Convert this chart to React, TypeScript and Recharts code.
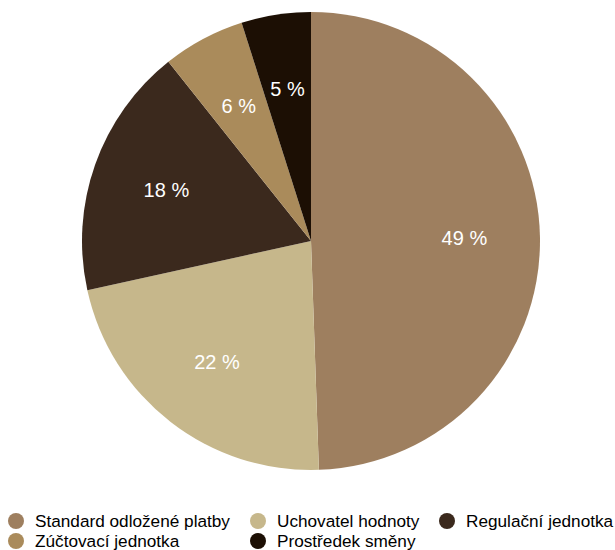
import { PieChart, Pie, Cell } from "recharts";

const categories = [
  "Standard odložené platby",
  "Uchovatel hodnoty",
  "Regulační jednotka",
  "Zúčtovací jednotka",
  "Prostředek směny",
];
// podíly (štítky jsou zaokrouhlené)
const shares = [49.45, 22.1, 17.75, 5.8, 4.9];
const colors = ["#9e7f5f", "#c6b78b", "#3b291d", "#aa8b5b", "#1c0f04"];

const data = categories.map((name, i) => ({ name, value: shares[i] }));

const RAD = Math.PI / 180;
const FONT = "'Liberation Sans', Arial, Helvetica, sans-serif";

function SliceLabel(props: any) {
  const { cx, cy, midAngle, outerRadius, value } = props;
  const r = outerRadius * 0.67;
  const x = cx + r * Math.cos(-midAngle * RAD);
  const y = cy + r * Math.sin(-midAngle * RAD);
  return (
    <text
      x={x}
      y={y}
      fill="#ffffff"
      textAnchor="middle"
      dominantBaseline="central"
      fontSize={20}
      fontFamily={FONT}
    >
      {`${Math.round(value)} %`}
    </text>
  );
}

function LegendGrid() {
  return (
    <div
      style={{
        position: "absolute",
        left: 8,
        top: 511,
        display: "grid",
        gridTemplateColumns: "242px 189px auto",
        gridAutoRows: "20px",
        fontFamily: FONT,
        fontSize: 17.2,
        lineHeight: "20px",
        color: "#000",
      }}
    >
      {data.map((d, i) => (
        <div key={d.name} style={{ display: "flex", alignItems: "center", whiteSpace: "nowrap" }}>
          <span
            style={{
              display: "inline-block",
              width: 16,
              height: 16,
              borderRadius: "50%",
              background: colors[i],
              marginRight: 11,
              flex: "none",
            }}
          />
          {d.name}
        </div>
      ))}
    </div>
  );
}

export default function App() {
  return (
    <div style={{ position: "relative", width: 615, height: 550, overflow: "hidden" }}>
      <style>{`html, body { margin: 0; overflow: hidden; }`}</style>
      <PieChart width={615} height={505} margin={{ top: 0, right: 0, bottom: 0, left: 0 }}>
        <Pie
          data={data}
          dataKey="value"
          nameKey="name"
          cx={311}
          cy={241}
          outerRadius={229}
          startAngle={90}
          endAngle={-270}
          stroke="none"
          label={SliceLabel}
          labelLine={false}
          isAnimationActive={false}
        >
          {data.map((d, i) => (
            <Cell key={d.name} fill={colors[i]} />
          ))}
        </Pie>
      </PieChart>
      <LegendGrid />
    </div>
  );
}
